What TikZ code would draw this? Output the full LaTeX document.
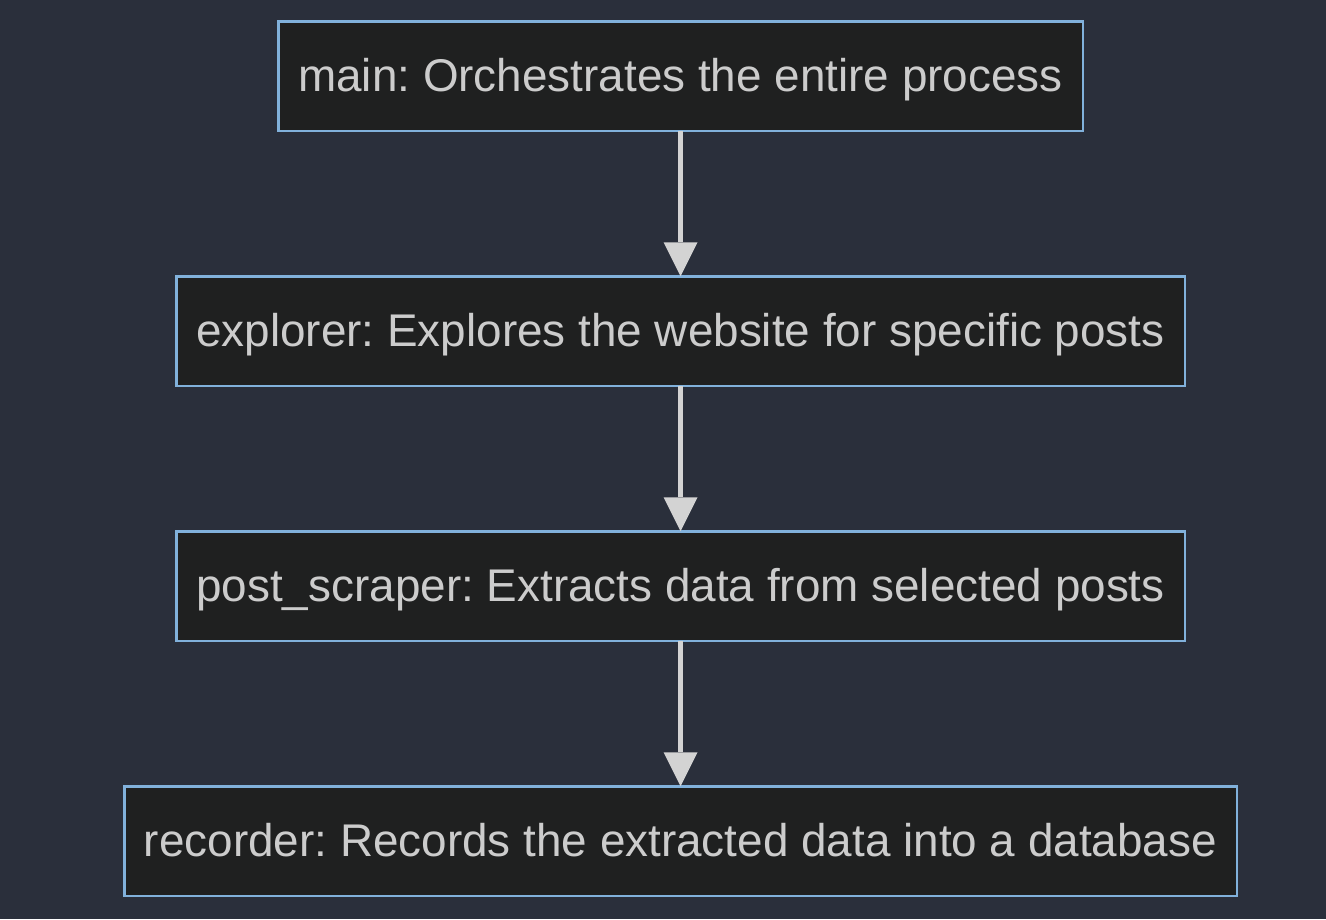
\documentclass[tikz,border=0pt]{standalone}
\usepackage{fontspec}
\setmainfont{Liberation Sans}
\usetikzlibrary{arrows.meta}
\definecolor{bgc}{HTML}{2A2F3B}
\definecolor{boxfill}{HTML}{1F2020}
\definecolor{boxline}{HTML}{81B1DB}
\definecolor{txtc}{HTML}{CCCCCC}
\definecolor{arrc}{HTML}{D3D3D3}
\frenchspacing
\begin{document}
\begin{tikzpicture}[x=1pt,y=-1pt,
  flowbox/.style={draw=boxline, fill=boxfill, line width=2.5pt, text=txtc,
    minimum height=109.5pt, inner sep=0pt, outer sep=0pt,
    text height=33pt, text depth=3pt,
    font=\fontsize{45.85}{55}\selectfont},
  flowarrow/.style={draw=arrc, line width=5pt,
    -{Triangle[width=34pt,length=34pt,line width=0pt]}}]
\fill[bgc] (0,0) rectangle (1326,919);
\useasboundingbox (0,0) rectangle (1326,919);
\node[flowbox, minimum width=804.5pt] (main) at (680.5,76) {main: Orchestrates the entire process};
\node[flowbox, minimum width=1008.5pt] (explorer) at (680.5,331) {explorer: Explores the website for specific posts};
\node[flowbox, minimum width=1008.5pt] (scraper) at (680.5,586) {post\_scraper: Extracts data from selected posts};
\node[flowbox, minimum width=1112.5pt] (recorder) at (680.5,841) {recorder: Records the extracted data into a database};
\draw[flowarrow] (main) -- (explorer);
\draw[flowarrow] (explorer) -- (scraper);
\draw[flowarrow] (scraper) -- (recorder);
\end{tikzpicture}
\end{document}
